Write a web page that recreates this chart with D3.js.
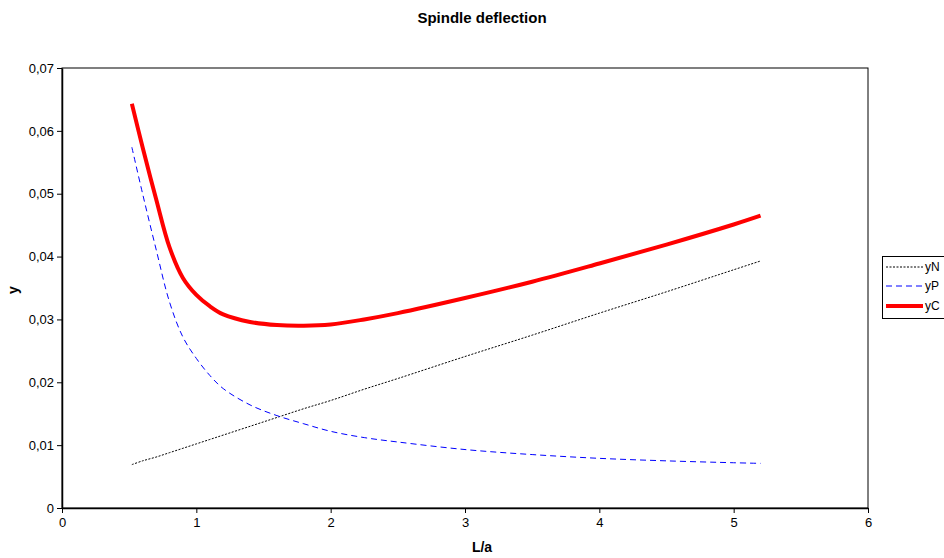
<!DOCTYPE html>
<html><head><meta charset="utf-8">
<script src="https://cdn.jsdelivr.net/npm/d3@7"></script>
<style>
body{margin:0;background:#fff;}
svg{font-family:Arial,"Liberation Sans",sans-serif;}
</style></head>
<body><svg id="c" width="944" height="558"></svg>
<script>
const xValues = [0.52,0.6,0.7,0.8,0.9,1.0,1.1,1.2,1.4,1.6,1.8,2.0,2.25,2.5,3.0,3.5,4.0,4.5,5.0,5.2];
const yN = [0.0069,0.0075,0.0081,0.0088,0.0095,0.0102,0.0109,0.0116,0.0130,0.0144,0.0158,0.0171,0.0189,0.0206,0.0241,0.0275,0.0310,0.0344,0.0379,0.0393];
const yP = [0.0574,0.0500,0.0412,0.0328,0.0272,0.0238,0.0211,0.0190,0.0164,0.0147,0.0134,0.0122,0.0112,0.0105,0.0093,0.0085,0.0079,0.0075,0.0072,0.0071];
const yC = [0.0643,0.0574,0.0492,0.0415,0.0366,0.0339,0.0321,0.0308,0.0296,0.0291,0.0290,0.0292,0.0300,0.0310,0.0334,0.0360,0.0389,0.0419,0.0451,0.0465];
const xTicks = [0,1,2,3,4,5,6];
const yTicks = [0,0.01,0.02,0.03,0.04,0.05,0.06,0.07];
const seriesNames = ["yN","yP","yC"];

const svg = d3.select("#c");
const L=62, R=868, T=68, B=508;
const x = d3.scaleLinear().domain([0,6]).range([L,R]);
const y = d3.scaleLinear().domain([0,0.07]).range([B,T]);
const fmt = d => d===0 ? "0" : d3.format(".2f")(d).replace(".", ",");

svg.append("rect").attr("x",L).attr("y",T).attr("width",R-L).attr("height",B-T)
  .attr("fill","#fff").attr("stroke","#000").attr("stroke-width",1);

const xa = svg.append("g").attr("transform",`translate(0,${B})`)
  .call(d3.axisBottom(x).tickValues(xTicks).tickSize(5).tickSizeOuter(0).tickFormat(d3.format("d")));
const ya = svg.append("g").attr("transform",`translate(${L},0)`)
  .call(d3.axisLeft(y).tickValues(yTicks).tickSize(5).tickSizeOuter(0).tickFormat(fmt));
[xa,ya].forEach(g=>{
  g.selectAll("path").attr("stroke","#000").attr("stroke-width",1.5);
  g.selectAll("line").attr("stroke","#000");
  g.selectAll("text").attr("font-size",13).attr("fill","#000").attr("font-family","Arial, 'Liberation Sans', sans-serif");
});
xa.selectAll("text").attr("dy","0.85em");
ya.selectAll("text").attr("x",-8);

const styles = {
  yN:{color:"#000",width:1,dash:"2,1.5"},
  yP:{color:"#0000ff",width:1,dash:"6,4"},
  yC:{color:"#ff0000",width:4,dash:null}
};
const dataBy = {yN, yP, yC};
const line = d3.line().x(d=>x(d[0])).y(d=>y(d[1])).curve(d3.curveCatmullRom.alpha(0.5));
seriesNames.forEach(n=>{
  const pts = xValues.map((xv,i)=>[xv,dataBy[n][i]]);
  const s = styles[n];
  svg.append("path").datum(pts).attr("d",line).attr("fill","none")
    .attr("stroke",s.color).attr("stroke-width",s.width)
    .attr("stroke-dasharray",s.dash).attr("stroke-linejoin","round");
});

svg.append("text").attr("x",482).attr("y",23).attr("text-anchor","middle")
  .attr("font-size",15).attr("font-weight","bold").text("Spindle deflection");
svg.append("text").attr("x",482).attr("y",552).attr("text-anchor","middle")
  .attr("font-size",14).attr("font-weight","bold").text("L/a");
svg.append("text").attr("transform","translate(18,290) rotate(-90)").attr("text-anchor","middle")
  .attr("font-size",14).attr("font-weight","bold").text("y");

const lg = svg.append("g");
lg.append("rect").attr("x",882.5).attr("y",256.5).attr("width",70).attr("height",62)
  .attr("fill","#fff").attr("stroke","#000").attr("stroke-width",1);
const rows=[267,286,306];
seriesNames.forEach((n,i)=>{
  const s=styles[n];
  lg.append("line").attr("x1",886).attr("x2",923).attr("y1",rows[i]).attr("y2",rows[i])
    .attr("stroke",s.color).attr("stroke-width",s.width).attr("stroke-dasharray",s.dash);
  lg.append("text").attr("x",925).attr("y",rows[i]).attr("dy","0.35em")
    .attr("font-size",12).text(n);
});
</script></body></html>
